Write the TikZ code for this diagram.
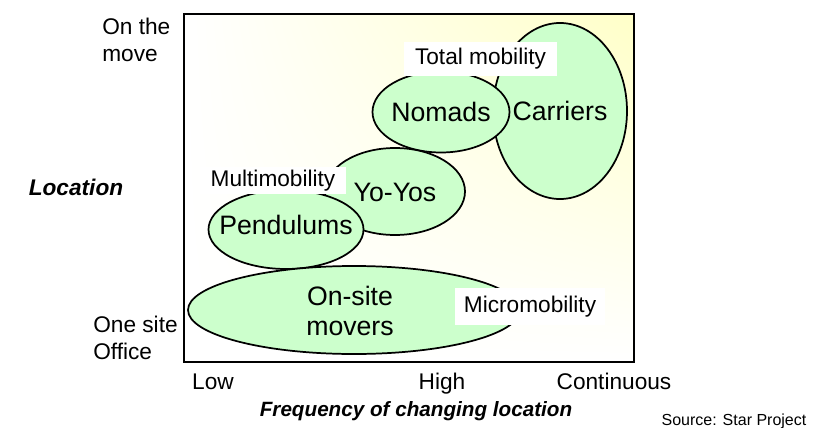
\documentclass[tikz,border=0pt]{standalone}
\usepackage{fontspec}
\setmainfont{Liberation Sans}
\usetikzlibrary{shapes.geometric,shadings}
\definecolor{ellfill}{RGB}{204,255,204}
\definecolor{paleyel}{RGB}{255,255,200}
\begin{document}
\begin{tikzpicture}[x=0.75pt,y=-0.75pt,
  blob/.style={ellipse, draw=black, line width=1.3pt, fill=ellfill, inner sep=0pt},
  bigtext/.style={font=\fontsize{20pt}{22.5pt}\selectfont, inner sep=0pt, align=center},
  small/.style={font=\fontsize{17pt}{20pt}\selectfont, inner sep=0pt},
  tag/.style={small, fill=white},
  axisbold/.style={font=\fontsize{17pt}{20pt}\selectfont\bfseries\itshape, inner sep=0pt},
]
\useasboundingbox (0,0) rectangle (821,428);
\fill[white] (0,0) rectangle (821,428);
\shade[upper left=white, upper right=paleyel, lower left=white, lower right=white]
  (184,14) rectangle (634,362);
\draw[line width=1.6pt] (184,14) rectangle (634,362);

% ellipses
\node[blob, minimum width=100.5pt, minimum height=132pt,
  label={[bigtext]center:Carriers}] (carriers) at (560,111) {};
\node[blob, minimum width=102.75pt, minimum height=60.75pt,
  label={[bigtext]center:Nomads}] (nomads) at (441,112) {};
\node[tag, minimum width=114.75pt, minimum height=25.5pt] (total) at (480.5,59) {Total mobility};

\node[blob, minimum width=105pt, minimum height=65.25pt,
  label={[bigtext, yshift=-1pt]center:Yo-Yos}] (yoyos) at (395,191.5) {};
\node[blob, minimum width=116.25pt, minimum height=59.25pt,
  label={[bigtext, yshift=3.5pt]center:Pendulums}] (pendulums) at (286,229.5) {};
\node[tag, minimum width=109.5pt, minimum height=20.25pt] (multi) at (273,180.5) {Multimobility};

\node[blob, minimum width=249pt, minimum height=66pt,
  label={[bigtext, xshift=-3pt, yshift=-0.5pt]center:On-site\\movers}] (onsite) at (354,310) {};
\node[tag, minimum width=112.5pt, minimum height=27.75pt] (micro) at (530,306.5) {Micromobility};

% axis labels
\node[small, anchor=north west, align=left] (onmove) at (102,18) {On the\\move};
\node[axisbold, anchor=base] (location) at (76,195) {Location};
\node[small, anchor=north west, align=left] (onesite) at (93,316) {One site\\Office};

\node[small, anchor=base] (low) at (213,389) {Low};
\node[small, anchor=base] (high) at (442,389) {High};
\node[small, anchor=base] (cont) at (614,389) {Continuous};
\node[font=\fontsize{15.5pt}{18pt}\selectfont\bfseries\itshape, inner sep=0pt, anchor=base] (freq) at (416,416) {Frequency of changing location};
\node[font=\fontsize{12pt}{14pt}\selectfont, inner sep=0pt, anchor=base] (source) at (734,425) {Source: Star Project};
\end{tikzpicture}
\end{document}
